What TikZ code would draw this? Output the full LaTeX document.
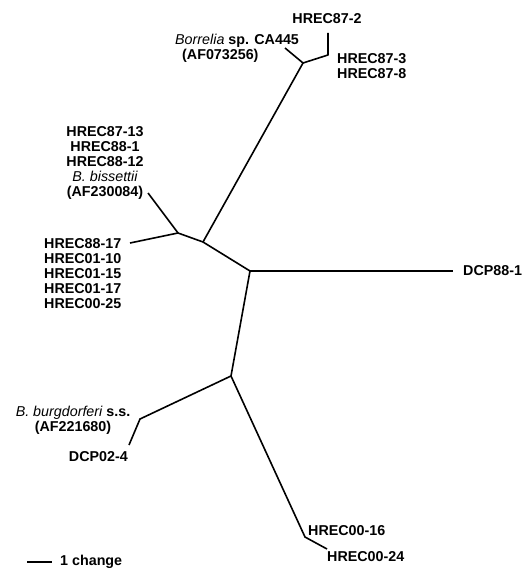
\documentclass[tikz,border=0pt]{standalone}
\usepackage{fontspec}
\setmainfont{Liberation Sans}
\begin{document}
\begin{tikzpicture}[x=1pt, y=-1pt,
    branch/.style={line width=1.6pt, line join=round},
    lab/.style={font=\bfseries\fontsize{14.3}{15.2}\selectfont, inner sep=0pt},
    sp/.style={font=\mdseries\itshape}]
  \useasboundingbox (0,0) rectangle (521,569);
  % internal nodes of the tree
  \coordinate (c) at (250,271);
  \coordinate (u) at (203,242);
  \coordinate (l1) at (178,233);
  \coordinate (t) at (303,63);
  \coordinate (d) at (231,376);
  % tips and bends
  \coordinate (dcp88) at (453,271);
  \coordinate (h17) at (130,243);
  \coordinate (bis) at (148,193);
  \coordinate (bor) at (285,48);
  \coordinate (h87j) at (328,55);
  \coordinate (h87e) at (328,33);
  \coordinate (bg) at (140,419);
  \coordinate (dcp02) at (129,445);
  \coordinate (h00j) at (305,537);
  \coordinate (h00e) at (327,549);

  % branches
  \draw[branch] (c) -- (dcp88);
  \draw[branch] (c) -- (u) -- (l1) -- (h17);
  \draw[branch] (l1) -- (bis);
  \draw[branch] (u) -- (t) -- (bor);
  \draw[branch] (t) -- (h87j) -- (h87e);
  \draw[branch] (c) -- (d) -- (bg) -- (dcp02);
  \draw[branch] (d) -- (h00j) -- (h00e);

  % labels
  \node[lab] (n87a) at (327,19) {HREC87-2};
  \node[lab, anchor=west, align=left] (nbor) at (175,48.5) {{\mdseries\itshape Borrelia} sp. CA445\\\hspace{7pt}(AF073256)};
  \node[lab, anchor=west, align=left] (n87b) at (337,66) {HREC87-3\\HREC87-8};
  \node[lab, align=center] (nbis) at (105,163) {HREC87-13\\HREC88-1\\HREC88-12\\{\mdseries\itshape B. bissettii}\\(AF230084)};
  \node[lab, anchor=west, align=left] (n88) at (44,273.5) {HREC88-17\\HREC01-10\\HREC01-15\\HREC01-17\\HREC00-25};
  \node[lab, anchor=west] (ndcp88) at (463,271) {DCP88-1};
  \node[lab, align=center] (nbg) at (73,420) {{\mdseries\itshape B. burgdorferi} s.s.\\(AF221680)};
  \node[lab, anchor=east] (ndcp02) at (128,457) {DCP02-4};
  \node[lab, anchor=west] (n00a) at (308,531) {HREC00-16};
  \node[lab, anchor=west] (n00b) at (327,557) {HREC00-24};

  % scale bar
  \coordinate (sb1) at (27,562);
  \coordinate (sb2) at (52,562);
  \draw[branch] (sb1) -- (sb2);
  \node[lab, anchor=west] (nsb) at (60,562) {1 change};
\end{tikzpicture}
\end{document}
